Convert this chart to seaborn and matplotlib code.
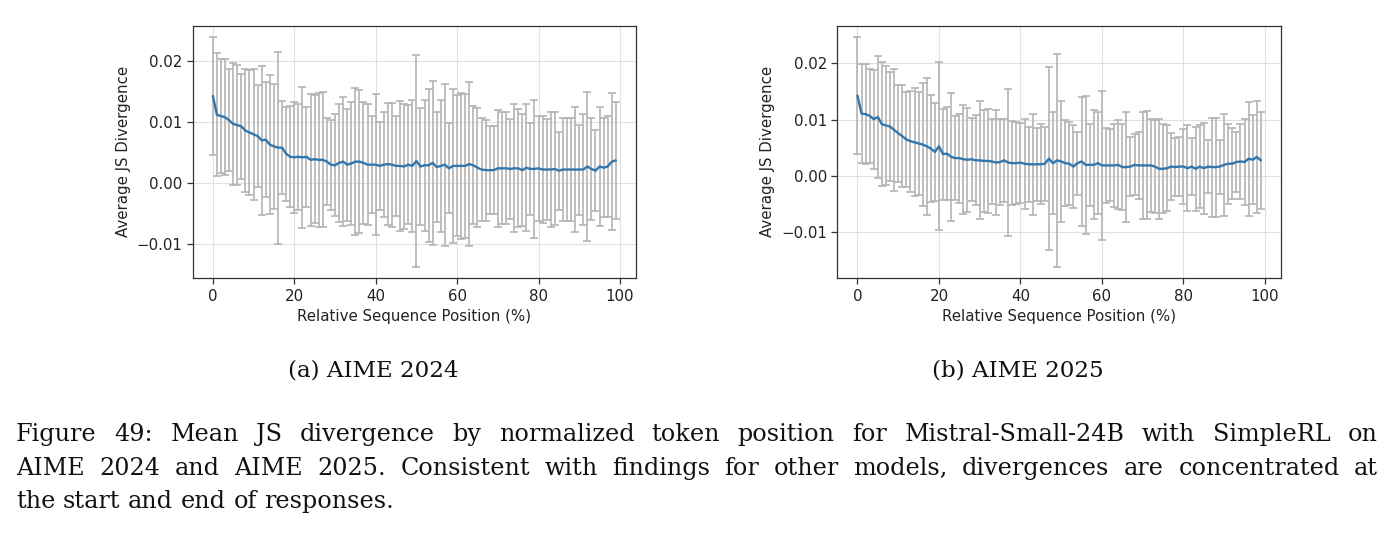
import numpy as np
import pandas as pd
import matplotlib
matplotlib.use("Agg")
import matplotlib.pyplot as plt
import seaborn as sns

positions = list(range(100))

left_mean = [0.0143, 0.0112, 0.0110, 0.0108, 0.0103, 0.0097, 0.0095, 0.0093, 0.0086, 0.0083,
             0.0080, 0.0077, 0.0070, 0.0071, 0.0063, 0.0060, 0.0058, 0.0058, 0.0048, 0.0043,
             0.0042, 0.0043, 0.0042, 0.0043, 0.0038, 0.0039, 0.0038, 0.0038, 0.0035, 0.0030,
             0.0029, 0.0033, 0.0035, 0.0030, 0.0032, 0.0035, 0.0035, 0.0033, 0.0030, 0.0030,
             0.0030, 0.0028, 0.0030, 0.0031, 0.0030, 0.0028, 0.0028, 0.0027, 0.0030, 0.0028,
             0.0036, 0.0027, 0.0029, 0.0029, 0.0033, 0.0026, 0.0028, 0.0030, 0.0024, 0.0028,
             0.0028, 0.0028, 0.0028, 0.0031, 0.0029, 0.0025, 0.0022, 0.0021, 0.0021, 0.0021,
             0.0024, 0.0024, 0.0024, 0.0023, 0.0024, 0.0024, 0.0021, 0.0025, 0.0023, 0.0023,
             0.0024, 0.0022, 0.0022, 0.0022, 0.0023, 0.0020, 0.0022, 0.0022, 0.0022, 0.0022,
             0.0022, 0.0022, 0.0027, 0.0023, 0.0020, 0.0027, 0.0025, 0.0027, 0.0035, 0.0037]

left_upper = [0.0240, 0.0213, 0.0204, 0.0203, 0.0187, 0.0198, 0.0194, 0.0179, 0.0187, 0.0186,
              0.0188, 0.0161, 0.0193, 0.0166, 0.0177, 0.0163, 0.0216, 0.0135, 0.0125, 0.0126,
              0.0133, 0.0130, 0.0158, 0.0125, 0.0147, 0.0144, 0.0148, 0.0149, 0.0106, 0.0104,
              0.0113, 0.0130, 0.0141, 0.0122, 0.0133, 0.0156, 0.0153, 0.0133, 0.0129, 0.0110,
              0.0146, 0.0100, 0.0116, 0.0131, 0.0132, 0.0110, 0.0135, 0.0129, 0.0128, 0.0137,
              0.0210, 0.0123, 0.0137, 0.0155, 0.0168, 0.0117, 0.0136, 0.0163, 0.0098, 0.0155,
              0.0144, 0.0148, 0.0147, 0.0166, 0.0126, 0.0123, 0.0107, 0.0104, 0.0093, 0.0093,
              0.0120, 0.0116, 0.0116, 0.0105, 0.0129, 0.0121, 0.0113, 0.0129, 0.0099, 0.0136,
              0.0110, 0.0110, 0.0105, 0.0116, 0.0116, 0.0084, 0.0106, 0.0107, 0.0106, 0.0125,
              0.0096, 0.0113, 0.0150, 0.0107, 0.0087, 0.0125, 0.0106, 0.0110, 0.0148, 0.0133]

right_mean = [0.0143, 0.0111, 0.0110, 0.0107, 0.0101, 0.0105, 0.0092, 0.0090, 0.0088, 0.0082,
              0.0076, 0.0071, 0.0065, 0.0062, 0.0060, 0.0058, 0.0056, 0.0053, 0.0049, 0.0043,
              0.0053, 0.0039, 0.0040, 0.0034, 0.0032, 0.0032, 0.0030, 0.0029, 0.0030, 0.0028,
              0.0028, 0.0027, 0.0027, 0.0026, 0.0024, 0.0025, 0.0028, 0.0024, 0.0023, 0.0023,
              0.0024, 0.0022, 0.0021, 0.0021, 0.0021, 0.0021, 0.0022, 0.0031, 0.0023, 0.0028,
              0.0026, 0.0023, 0.0022, 0.0017, 0.0023, 0.0026, 0.0020, 0.0020, 0.0020, 0.0023,
              0.0019, 0.0019, 0.0019, 0.0019, 0.0020, 0.0016, 0.0016, 0.0017, 0.0020, 0.0019,
              0.0019, 0.0019, 0.0019, 0.0017, 0.0013, 0.0013, 0.0014, 0.0017, 0.0016, 0.0017,
              0.0017, 0.0014, 0.0017, 0.0013, 0.0017, 0.0014, 0.0017, 0.0016, 0.0016, 0.0017,
              0.0020, 0.0022, 0.0022, 0.0025, 0.0026, 0.0025, 0.0031, 0.0029, 0.0034, 0.0028]

right_upper = [0.0247, 0.0199, 0.0199, 0.0190, 0.0189, 0.0213, 0.0202, 0.0196, 0.0185, 0.0190,
               0.0162, 0.0162, 0.0150, 0.0152, 0.0156, 0.0150, 0.0165, 0.0175, 0.0144, 0.0130,
               0.0202, 0.0120, 0.0122, 0.0147, 0.0107, 0.0111, 0.0127, 0.0121, 0.0104, 0.0108,
               0.0133, 0.0117, 0.0119, 0.0101, 0.0117, 0.0102, 0.0102, 0.0154, 0.0098, 0.0096,
               0.0095, 0.0102, 0.0088, 0.0111, 0.0086, 0.0092, 0.0088, 0.0193, 0.0113, 0.0217,
               0.0133, 0.0099, 0.0096, 0.0090, 0.0079, 0.0141, 0.0142, 0.0093, 0.0117, 0.0113,
               0.0151, 0.0085, 0.0083, 0.0092, 0.0099, 0.0092, 0.0113, 0.0070, 0.0074, 0.0079,
               0.0114, 0.0115, 0.0101, 0.0099, 0.0102, 0.0092, 0.0090, 0.0077, 0.0068, 0.0070,
               0.0083, 0.0090, 0.0068, 0.0088, 0.0090, 0.0095, 0.0064, 0.0104, 0.0104, 0.0065,
               0.0111, 0.0093, 0.0085, 0.0079, 0.0092, 0.0101, 0.0132, 0.0108, 0.0133, 0.0114]

subcaptions = ["(a) AIME 2024", "(b) AIME 2025"]
caption_lines = [
    "Figure 49: Mean JS divergence by normalized token position for Mistral-Small-24B with SimpleRL on",
    "AIME 2024 and AIME 2025. Consistent with findings for other models, divergences are concentrated at",
    "the start and end of responses.",
]
xlabel = "Relative Sequence Position (%)"
ylabel = "Average JS Divergence"

sns.set_theme(style="ticks")
plt.rcParams["font.family"] = ["DejaVu Sans"]
plt.rcParams["axes.unicode_minus"] = True

W, H = 1393, 552
fig = plt.figure(figsize=(W / 100, H / 100), dpi=100)
fig.patch.set_facecolor("white")

panels = [
    (left_mean, left_upper, [192.7 / W, (H - 278.3) / H, (636 - 192.7) / W, (278.3 - 25.5) / H]),
    (right_mean, right_upper, [837.3 / W, (H - 278.3) / H, (1281 - 837.3) / W, (278.3 - 25.5) / H]),
]

for mean, upper, rect in panels:
    ax = fig.add_axes(rect)
    df = pd.DataFrame({"pos": positions, "mean": mean, "upper": upper})
    df["std"] = df["upper"] - df["mean"]
    ax.errorbar(df["pos"], df["mean"], yerr=df["std"], fmt="none", ecolor="#b4b4b4",
                elinewidth=1.2, capsize=3, capthick=1.2, zorder=2)
    sns.lineplot(data=df, x="pos", y="mean", ax=ax, color="#3176ad", linewidth=1.7, zorder=3)
    ax.set_xlabel(xlabel, fontsize=10.8, color="#222222")
    ax.set_ylabel(ylabel, fontsize=10.8, color="#222222")
    ax.set_xticks([0, 20, 40, 60, 80, 100])
    ax.set_yticks([-0.01, 0.0, 0.01, 0.02])
    ax.tick_params(labelsize=10.8, length=4, width=0.9, color="#333333", labelcolor="#222222")
    ax.grid(True, color="#e0e0e0", linewidth=0.8)
    ax.set_axisbelow(True)
    for s in ax.spines.values():
        s.set_visible(True)
        s.set_color("#333333")
        s.set_linewidth(0.9)
    ax.margins(x=0.05, y=0.05)

serif = ["DejaVu Serif"]
sub_size = 16.6
cap_size = 17.2
fig.text(373 / W, 1 - 377 / H, subcaptions[0], ha="center", va="baseline",
         fontsize=sub_size, family=serif, color="#111111")
fig.text(1018 / W, 1 - 377 / H, subcaptions[1], ha="center", va="baseline",
         fontsize=sub_size, family=serif, color="#111111")

renderer = fig.canvas.get_renderer()
x_left, x_right = 16.0, 1378.0
baselines = [441, 475, 508]
for li, (line, by) in enumerate(zip(caption_lines, baselines)):
    words = line.split(" ")
    texts = [fig.text(0, 1 - by / H, w, ha="left", va="baseline", fontsize=cap_size,
                      family=serif, color="#111111") for w in words]
    widths = [t.get_window_extent(renderer).width for t in texts]
    justify = li < len(caption_lines) - 1
    if justify:
        gap = (x_right - x_left - sum(widths)) / (len(words) - 1)
    else:
        sp = fig.text(0, 0, "a a", fontsize=cap_size, family=serif)
        sp2 = fig.text(0, 0, "aa", fontsize=cap_size, family=serif)
        gap = sp.get_window_extent(renderer).width - sp2.get_window_extent(renderer).width
        sp.remove(); sp2.remove()
    x = x_left
    for t, w in zip(texts, widths):
        t.set_x(x / W)
        x += w + gap

fig.savefig("out.png", dpi=100, facecolor="white")
